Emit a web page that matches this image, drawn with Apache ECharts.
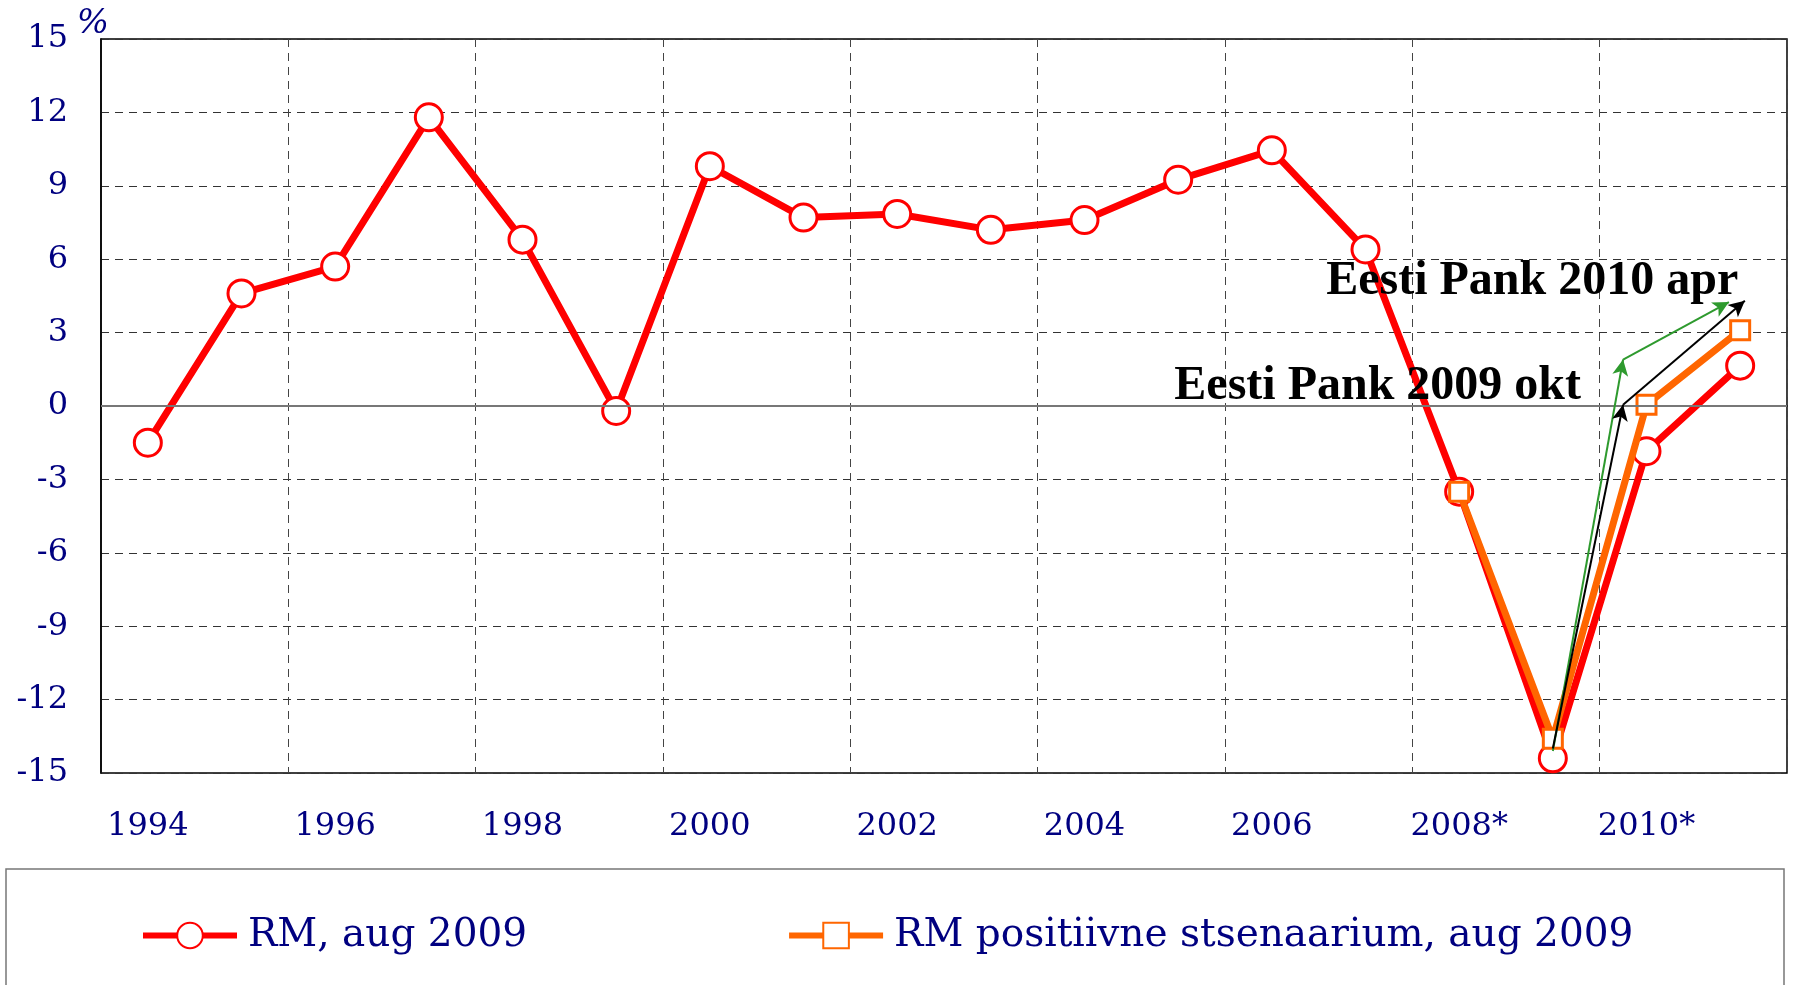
<!DOCTYPE html>
<html>
<head>
<meta charset="utf-8">
<script src="https://cdn.jsdelivr.net/npm/echarts@6/dist/echarts.min.js"></script>
<style>
  html, body { margin: 0; padding: 0; background: #fff; }
  #main { width: 1793px; height: 985px; }
</style>
</head>
<body>
<div id="main"></div>
<script>
// years, asterisk = forecast
const years = ['1994', '1995', '1996', '1997', '1998', '1999', '2000', '2001', '2002',
  '2003', '2004', '2005', '2006', '2007', '2008*', '2009*', '2010*', '2011*'];
// RM, aug 2009
const rmAug = [-1.5, 4.6, 5.7, 11.8, 6.8, -0.2, 9.8, 7.7, 7.85, 7.2, 7.6, 9.25, 10.45, 6.4,
  -3.5, -14.4, -1.85, 1.65];
// RM positiivne stsenaarium
const rmPos = [null, null, null, null, null, null, null, null, null, null, null, null, null, null,
  -3.5, -13.6, 0.05, 3.1];
// arrow paths in (category position, %) units
const greenArrow = [[15.5, -14.1], [16.25, 1.9], [17.38, 4.25]];
const blackArrow = [[15.5, -14.0], [16.25, 0.05], [17.55, 4.3]];
// annotation text anchors
const notes = [
  { text: 'Eesti Pank 2010 apr', pos: [15.28, 5.1] },
  { text: 'Eesti Pank 2009 okt', pos: [13.63, 0.8] }
];

const navy = '#000080';
const labelFont = 'DejaVu Serif';

function arrowSegments(pts) {
  let segs = [];
  for (let i = 0; i < pts.length - 1; i++) {
    segs.push([{ coord: pts[i] }, { coord: pts[i + 1] }]);
  }
  return segs;
}

let chart = echarts.init(document.getElementById('main'));
let option = {
  animation: false,
  backgroundColor: '#fff',
  grid: {
    left: 101,
    right: 6,
    top: 39,
    bottom: 212,
    show: true,
    borderColor: '#000',
    borderWidth: 1.5,
    backgroundColor: 'transparent'
  },
  legend: {
    left: 135,
    top: 911,
    itemWidth: 94,
    itemHeight: 32,
    itemGap: 259,
    lineStyle: { width: 6 },
    textStyle: {
      fontFamily: labelFont,
      fontSize: 39,
      color: navy,
      padding: [0, 0, 0, 6]
    },
    data: ['RM, aug 2009', 'RM positiivne stsenaarium, aug 2009']
  },
  graphic: [{
    type: 'rect',
    shape: { x: 6, y: 869, width: 1778, height: 140 },
    style: { fill: 'none', stroke: '#777', lineWidth: 1.5 },
    z: 0
  }],
  xAxis: [{
    type: 'category',
    data: years,
    boundaryGap: true,
    axisLine: { lineStyle: { color: '#000', width: 1.5 } },
    axisTick: { show: false, interval: 1 },
    axisLabel: {
      interval: 1,
      margin: 38,
      fontFamily: labelFont,
      fontSize: 32,
      color: navy
    },
    splitLine: {
      show: true,
      interval: 1,
      lineStyle: { color: '#444', width: 1, type: [8, 6] }
    }
  }, {
    type: 'value',
    min: 0,
    max: 18,
    show: false
  }],
  yAxis: {
    type: 'value',
    min: -15,
    max: 15,
    interval: 3,
    name: '%',
    nameLocation: 'end',
    nameGap: -2,
    nameTextStyle: {
      fontFamily: labelFont,
      fontStyle: 'italic',
      fontSize: 34,
      color: navy,
      padding: [0, 16, 0, 0]
    },
    axisLine: { show: true, lineStyle: { color: '#000', width: 1.5 } },
    axisTick: { show: false },
    axisLabel: {
      margin: 33,
      fontFamily: labelFont,
      fontSize: 32,
      color: navy
    },
    splitLine: {
      show: true,
      lineStyle: { color: '#333', width: 1, type: [8, 6] }
    }
  },
  series: [{
    // zero line
    type: 'line',
    data: [],
    z: 1,
    silent: true,
    markLine: {
      silent: true,
      symbol: 'none',
      label: { show: false },
      lineStyle: { color: '#777', type: 'solid', width: 2 },
      data: [{ yAxis: 0 }]
    }
  }, {
    name: 'RM, aug 2009',
    type: 'line',
    data: rmAug,
    z: 3,
    symbol: 'circle',
    symbolSize: 27,
    lineStyle: { color: '#ff0000', width: 7 },
    itemStyle: { color: '#fff', borderColor: '#ff0000', borderWidth: 3 }
  }, {
    name: 'RM positiivne stsenaarium, aug 2009',
    type: 'line',
    data: rmPos,
    z: 4,
    symbol: 'rect',
    symbolSize: 19,
    lineStyle: { color: '#ff6600', width: 7 },
    itemStyle: { color: '#fff', borderColor: '#ff6600', borderWidth: 3 }
  }, {
    type: 'line',
    xAxisIndex: 1,
    data: [],
    z: 5,
    markLine: {
      silent: true,
      symbol: ['none', 'arrow'],
      symbolSize: [12, 16],
      label: { show: false },
      lineStyle: { color: '#2e9a2e', type: 'solid', width: 2 },
      data: arrowSegments(greenArrow)
    }
  }, {
    type: 'line',
    xAxisIndex: 1,
    data: [],
    z: 5,
    markLine: {
      silent: true,
      symbol: ['none', 'arrow'],
      symbolSize: [12, 16],
      label: { show: false },
      lineStyle: { color: '#000', type: 'solid', width: 2 },
      data: arrowSegments(blackArrow)
    }
  }, {
    type: 'line',
    xAxisIndex: 1,
    data: [],
    z: 6,
    markPoint: {
      silent: true,
      symbol: 'circle',
      symbolSize: 0,
      label: {
        show: true,
        position: 'inside',
        fontFamily: 'Liberation Serif',
        fontWeight: 'bold',
        fontSize: 48,
        color: '#000',
        formatter: p => p.name
      },
      data: notes.map(n => ({ name: n.text, coord: n.pos }))
    }
  }]
};
chart.setOption(option);
</script>
</body>
</html>
